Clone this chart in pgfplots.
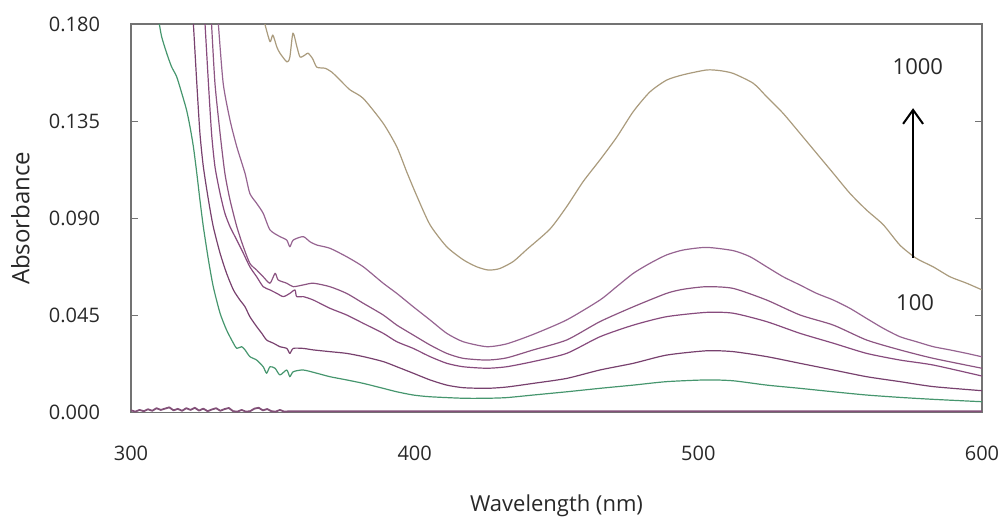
\documentclass[border=0pt]{standalone}
\usepackage{pgfplots}
\pgfplotsset{compat=1.18}
\usepackage{fontspec}
\setmainfont{Open Sans}
\usetikzlibrary{arrows.meta}
\definecolor{txt}{RGB}{40,40,40}
\definecolor{frame}{RGB}{115,115,115}
\definecolor{cgreen}{RGB}{70,150,110}
\definecolor{cp1}{RGB}{120,65,110}
\definecolor{cp2}{RGB}{135,75,125}
\definecolor{cp3}{RGB}{140,85,130}
\definecolor{cp4}{RGB}{150,100,145}
\definecolor{ctan}{RGB}{170,155,125}
\definecolor{cbase}{RGB}{130,80,120}
\begin{document}
\begin{tikzpicture}
\begin{axis}[
  name=ax,
  at={(0,0)}, anchor=south west,
  scale only axis,
  width=425.5pt, height=194.25pt,
  xmin=300, xmax=600, ymin=0, ymax=0.18,
  xtick={300,400,500,600},
  xticklabels={300,400,500,600},
  ytick={0,0.045,0.09,0.135,0.18},
  yticklabels={0.000,0.045,0.090,0.135,0.180},
  major x tick style={draw=none},
  major y tick style={frame, line width=0.6pt},
  major tick length=3.5pt,
  tick align=inside,
  axis line style={frame, line width=0.6pt},
  ticklabel style={font=\fontsize{10}{12}\selectfont, text=txt},
  yticklabel style={xshift=-12pt},
  xticklabel style={yshift=-13pt},
  xlabel={Wavelength (nm)},
  ylabel={Absorbance},
  xlabel style={at={(axis description cs:0.5,-0.24)}, anchor=center, font=\fontsize{11}{13}\selectfont, text=txt},
  ylabel style={at={(axis description cs:-0.13,0.5)}, anchor=center, font=\fontsize{12}{14}\selectfont, text=txt},
  clip=true,
  every axis plot/.append style={line width=0.6pt, line join=round},
]
% baseline (noise near zero)
\addplot[cbase, line width=0.9pt] coordinates {
(300,0.0010)(301.5,0.0004)(303,0.0012)(304.5,0.0006)(306,0.0015)(307.5,0.0008)(309,0.0020)(310.5,0.0012)(312,0.0018)(313.5,0.0024)(315,0.0010)(316.5,0.0017)(318,0.0008)(319.5,0.0020)(321,0.0012)(322.5,0.0022)(324,0.0009)(325.5,0.0018)(327,0.0006)(328.5,0.0014)(330,0.0020)(331.5,0.0008)(333,0.0016)(334.5,0.0021)(336,0.0006)(337.5,0.0004)(339,0.0012)(340.5,0.0004)(342,0.0006)(343.5,0.0018)(345,0.0022)(346.5,0.0010)(348,0.0016)(349.5,0.0006)(351,0.0004)(352.5,0.0012)(354,0.0004)(356,0.0006)(600,0.0006)};
% green (lowest)
\addplot[cgreen, smooth, tension=0.4] coordinates {
(310.0,0.1800)(310.8,0.1741)(312.6,0.1664)(314.3,0.1602)(316.1,0.1556)(317.9,0.1479)(319.6,0.1401)(320.8,0.1324)(322.0,0.1231)(323.2,0.1108)(324.3,0.0985)(325.5,0.0861)(327.3,0.0707)(329.0,0.0583)(331.4,0.0460)(333.7,0.0382)(336.1,0.0321)(337.3,0.0297)(339.0,0.0305)(340.2,0.0290)(341.9,0.0259)(344.3,0.0243)(346.6,0.0212)(347.8,0.0182)(349.0,0.0212)(350.8,0.0205)(352.5,0.0174)(354.9,0.0197)(356.0,0.0166)(357.2,0.0189)(360.7,0.0197)(365.5,0.0182)(370.1,0.0166)(376.0,0.0151)(381.9,0.0135)(388.9,0.0112)(393.7,0.0096)(399.5,0.0081)(405.4,0.0073)(417.1,0.0066)(425.4,0.0066)(432.4,0.0069)(441.8,0.0081)(453.6,0.0096)(465.3,0.0112)(477.1,0.0127)(488.8,0.0143)(502.9,0.0151)(512.3,0.0147)(524.1,0.0127)(535.8,0.0112)(547.6,0.0096)(559.3,0.0081)(571.1,0.0070)(582.8,0.0061)(600,0.0050)};
% purple 1
\addplot[cp1, smooth, tension=0.4] coordinates {
(322.0,0.1800)(323.2,0.1525)(324.3,0.1294)(325.5,0.1139)(327.3,0.0985)(329.0,0.0861)(331.4,0.0738)(333.7,0.0645)(336.1,0.0568)(338.4,0.0521)(340.2,0.0490)(341.9,0.0444)(344.3,0.0398)(346.1,0.0367)(347.8,0.0336)(350.2,0.0321)(352.5,0.0305)(354.9,0.0297)(356.0,0.0274)(357.2,0.0297)(360.7,0.0297)(364.3,0.0290)(370.1,0.0282)(376.0,0.0274)(381.9,0.0259)(388.9,0.0236)(393.7,0.0212)(399.5,0.0182)(405.4,0.0151)(411.3,0.0127)(417.1,0.0115)(425.4,0.0112)(432.4,0.0118)(441.8,0.0135)(453.6,0.0158)(465.3,0.0197)(477.1,0.0228)(488.8,0.0266)(502.9,0.0286)(512.3,0.0282)(524.1,0.0259)(535.8,0.0228)(547.6,0.0197)(559.3,0.0166)(571.1,0.0143)(582.8,0.0120)(600,0.0101)};
% purple 2
\addplot[cp2, smooth, tension=0.4] coordinates {
(326.1,0.1800)(327.3,0.1525)(328.4,0.1294)(329.6,0.1139)(331.4,0.1015)(333.1,0.0923)(334.9,0.0861)(337.3,0.0799)(339.6,0.0738)(341.9,0.0675)(344.3,0.0629)(346.6,0.0583)(349.0,0.0568)(351.4,0.0552)(353.7,0.0537)(356.0,0.0552)(357.8,0.0568)(358.4,0.0537)(360.7,0.0537)(364.3,0.0521)(370.1,0.0483)(376.0,0.0452)(381.9,0.0413)(388.9,0.0367)(393.7,0.0328)(399.5,0.0297)(405.4,0.0259)(411.3,0.0228)(417.1,0.0212)(425.4,0.0205)(432.4,0.0212)(441.8,0.0236)(453.6,0.0274)(465.3,0.0351)(477.1,0.0405)(488.8,0.0444)(502.9,0.0464)(512.3,0.0460)(524.1,0.0421)(535.8,0.0367)(547.6,0.0321)(559.3,0.0274)(571.1,0.0243)(582.8,0.0220)(600,0.0169)};
% purple 3
\addplot[cp3, smooth, tension=0.4] coordinates {
(328.4,0.1800)(329.6,0.1525)(331.4,0.1294)(333.1,0.1108)(334.9,0.0985)(337.3,0.0861)(339.6,0.0768)(341.9,0.0691)(344.3,0.0660)(346.6,0.0629)(349.0,0.0599)(350.8,0.0645)(351.9,0.0614)(354.9,0.0599)(357.2,0.0583)(360.7,0.0591)(364.3,0.0599)(370.1,0.0583)(376.0,0.0552)(381.9,0.0506)(388.9,0.0452)(393.7,0.0405)(399.5,0.0359)(405.4,0.0313)(411.3,0.0274)(417.1,0.0251)(425.4,0.0243)(432.4,0.0253)(441.8,0.0290)(453.6,0.0336)(465.3,0.0421)(477.1,0.0490)(488.8,0.0552)(494.7,0.0571)(502.9,0.0583)(512.3,0.0575)(524.1,0.0521)(535.8,0.0452)(547.6,0.0405)(559.3,0.0336)(571.1,0.0290)(582.8,0.0251)(600,0.0205)};
% purple 4
\addplot[cp4, smooth, tension=0.4] coordinates {
(330.8,0.1800)(332.5,0.1525)(334.9,0.1355)(337.3,0.1231)(340.2,0.1108)(341.9,0.1015)(344.3,0.0969)(346.6,0.0923)(349.0,0.0846)(352.5,0.0815)(354.9,0.0799)(356.0,0.0768)(357.2,0.0799)(360.7,0.0815)(363.1,0.0791)(365.5,0.0776)(370.1,0.0761)(376.0,0.0722)(381.9,0.0675)(388.9,0.0599)(393.7,0.0552)(399.5,0.0490)(405.4,0.0429)(411.3,0.0367)(417.1,0.0328)(425.4,0.0305)(432.4,0.0318)(441.8,0.0362)(453.6,0.0429)(465.3,0.0521)(471.2,0.0583)(477.1,0.0645)(482.9,0.0691)(488.8,0.0730)(494.7,0.0753)(502.9,0.0765)(512.3,0.0750)(518.2,0.0722)(524.1,0.0675)(529.9,0.0629)(535.8,0.0591)(541.7,0.0552)(547.6,0.0521)(553.4,0.0483)(559.3,0.0436)(565.2,0.0390)(571.1,0.0351)(576.9,0.0328)(582.8,0.0305)(588.7,0.0290)(594.6,0.0274)(600,0.0258)};
% tan (top)
\addplot[ctan, smooth, tension=0.4] coordinates {
(347.2,0.1800)(349,0.1718)(350,0.1749)(351.4,0.1694)(352.5,0.1665)(355,0.1624)(356,0.1647)(357.1,0.1758)(358.5,0.1694)(359.6,0.1647)(361.3,0.1656)(362.4,0.1665)(364,0.1640)(365.5,0.1600)(368.4,0.1595)(370.8,0.1577)(373.7,0.1540)(377.2,0.1495)(381.9,0.1455)(388.9,0.1340)(393.7,0.1231)(397.2,0.1115)(400.7,0.1005)(405.4,0.0870)(411.3,0.0768)(417.2,0.0707)(421.9,0.0675)(426,0.0660)(430,0.0667)(434.8,0.0700)(439.5,0.0755)(447.7,0.0850)(453.6,0.0954)(459.4,0.1070)(465.3,0.1170)(471.2,0.1275)(477.1,0.1395)(482.9,0.1485)(488.8,0.1540)(494.7,0.1565)(502.9,0.1587)(507.6,0.1584)(512.3,0.1571)(519.4,0.1525)(524.1,0.1463)(529.9,0.1386)(535.8,0.1294)(541.7,0.1201)(547.6,0.1108)(553.4,0.1016)(559.3,0.0938)(565.2,0.0870)(571.1,0.0775)(576.9,0.0714)(582.8,0.0675)(588.7,0.0629)(594.6,0.0599)(600,0.0568)};
% annotation
\draw[black, line width=1pt, -{Straight Barb[length=7pt,width=10pt,line width=1pt]}] (axis cs:575.7,0.0716) -- (axis cs:575.7,0.1410);
\node[font=\fontsize{11}{13}\selectfont, text=txt] at (axis cs:577.4,0.1604) {1000};
\node[font=\fontsize{11}{13}\selectfont, text=txt] at (axis cs:576.4,0.0507) {100};
\end{axis}
\pgfresetboundingbox
\path (-65.5pt,-51.75pt) rectangle (435.5pt,206.25pt);
\end{tikzpicture}
\end{document}
